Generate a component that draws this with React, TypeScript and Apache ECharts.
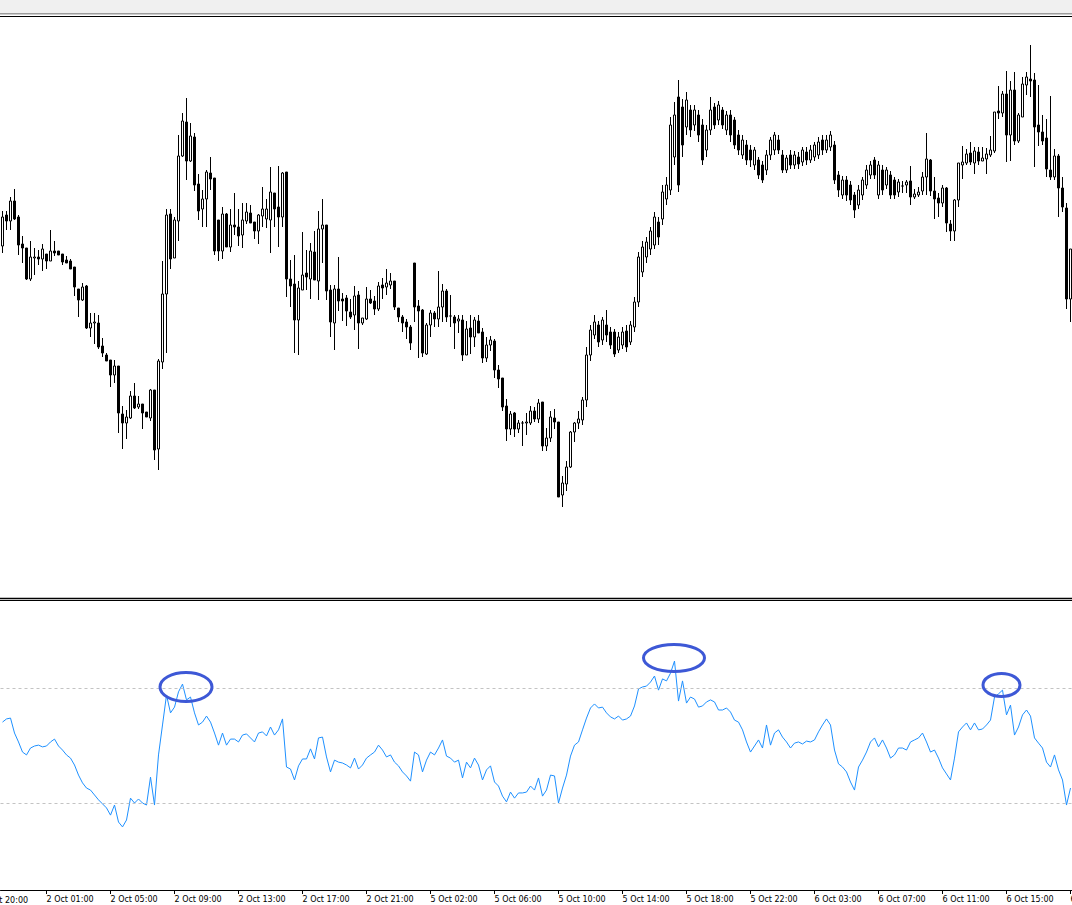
import React, { useEffect, useRef } from 'react';
import * as echarts from 'echarts';

// Candles as [open, close, low, high] in price points (15-minute bars)
const candlesSeg1: number[][] = [
  [351,380,344,386],[382,376,367,386],[376,396,367,400],[396,378,377,408],[380,352,342,382],
  [353,349,334,361],[349,318,317,349],[318,340,316,356],[339,340,322,349],[340,338,332,347],
  [338,348,326,353],[343,336,328,343],[336,346,336,367],[346,344,341,356],[346,342,342,346],
  [343,335,332,343],[337,334,334,341],[336,328,328,338],[330,310,301,330],[308,297,280,308],
  [297,310,296,314],[311,269,268,312],[269,274,260,284],[274,275,253,284],[274,250,248,282],
  [251,244,240,259],[242,236,236,244],[237,222,210,237],[222,231,214,237],[231,184,164,231],
  [183,174,148,191],[174,180,158,187],[179,201,178,206],[201,189,188,214],[190,193,188,201],
  [193,184,168,193],[185,180,180,185],[179,207,176,208],[207,147,137,207],[148,236,127,238],
  [235,303,228,336],[303,382,244,388],[383,338,328,388],[339,377,339,380],[376,441,356,462],
  [441,476,440,484],[475,436,417,499],[436,461,435,474],[460,412,406,464],[413,386,377,423],
  [388,398,370,407],[398,425,370,427],[424,418,407,440],[419,346,342,419],[377,346,336,377],
  [346,383,338,390],[383,350,350,384],[350,372,345,388],[372,370,362,404],[370,361,351,388],
  [362,377,349,394],[376,385,373,394],[384,374,374,392],[375,366,358,375],[366,382,353,383],
  [381,388,370,410],[378,388,369,398],[377,405,344,430],[404,388,370,404],[390,380,350,431],
];
const candlesSeg2: number[][] = [
  [380,424,370,425],[425,318,300,425],[318,311,290,337],[313,277,244,342],[277,309,242,316],
  [307,322,307,365],[324,320,307,347],[318,346,298,354],[345,317,317,366],[316,368,297,386],
  [368,372,334,398],[372,306,297,372],[307,275,260,312],[274,308,247,312],[308,296,286,340],
  [298,296,276,304],[299,286,271,302],[285,280,278,298],[282,301,267,311],[302,274,248,306],
  [274,279,272,279],[278,298,277,310],[298,294,293,307],[296,288,282,301],[288,311,286,315],
  [312,309,298,319],[310,314,302,328],[312,316,308,324],[316,290,287,316],[289,280,275,289],
  [280,274,265,282],[275,270,258,278],[270,254,247,272],[334,290,275,334],[291,286,239,297],
  [287,244,240,288],[243,272,242,274],[272,284,260,287],[284,278,270,286],[278,290,270,326],
  [290,306,275,313],[306,280,275,308],[281,281,270,302],[280,274,248,282],[276,278,264,282],
  [277,242,236,282],[242,268,242,276],[269,260,243,282],[260,277,250,280],[276,264,264,282],
  [265,239,234,269],[239,252,235,260],[252,257,246,261],[256,227,219,258],[227,218,209,232],
  [219,190,186,219],[191,168,156,198],[168,183,162,186],[184,168,160,185],[168,174,164,177],
  [174,174,151,176],[174,175,162,184],[174,186,172,191],[186,178,175,190],[178,194,174,198],
  [195,151,146,195],[151,159,146,169],[159,180,155,186],[179,175,168,188],[175,100,100,175],
  [102,114,90,121],[113,130,106,136],[130,165,129,166],[165,174,155,175],[174,178,168,186],
];
const candlesSeg3: number[][] = [
  [177,197,172,200],[197,242,190,250],[242,267,236,272],[262,275,258,282],[272,255,250,276],
  [257,277,252,280],[272,262,255,287],[265,252,248,270],[265,243,240,268],[247,260,244,265],
  [252,265,248,270],[266,250,245,272],[255,272,252,276],[270,295,265,300],[295,340,290,345],
  [325,350,320,356],[340,355,334,360],[348,366,342,370],[352,380,348,385],[375,360,352,380],
  [378,405,372,412],[398,412,392,420],[407,472,402,480],[440,482,432,495],[500,412,405,517],
  [490,452,440,498],[470,497,462,505],[487,467,460,492],[472,487,466,492],[482,462,455,487],
  [472,437,432,478],[447,467,440,472],[467,487,462,500],[490,472,468,494],[477,492,472,496],
  [487,472,468,490],[467,482,462,486],[482,462,455,487],[477,452,448,480],[462,447,442,467],
  [442,457,438,462],[452,437,432,457],[447,437,430,452],[432,447,427,450],[437,422,418,440],
  [432,417,414,436],[427,442,422,447],[442,457,437,460],[447,462,442,465],[457,447,443,462],
  [442,427,424,447],[427,439,424,442],[442,432,428,447],[432,442,428,446],[440,433,428,445],
  [435,447,431,450],[445,437,432,450],[437,447,434,452],[440,452,436,455],[442,455,438,460],
  [457,447,442,462],[447,457,444,462],[450,462,446,466],[452,417,413,456],[422,407,400,426],
  [402,417,398,421],[417,402,396,421],[412,397,392,416],[402,387,379,405],[392,407,388,412],
  [402,417,397,420],[412,427,408,432],[422,432,418,436],[437,422,418,440],[402,432,398,436],
  [427,407,402,432],[412,427,408,430],[422,402,398,426],[417,402,398,420],[405,415,400,418],
];
const candlesSeg4: number[][] = [
  [411,411,404,416],[412,415,404,417],[416,400,392,431],[400,403,398,408],[402,405,400,410],
  [406,420,402,425],[420,438,402,464],[437,406,401,438],[406,398,378,420],[399,394,380,404],
  [394,409,390,412],[409,374,365,410],[373,366,356,377],[366,397,356,398],[397,434,390,434],
  [432,435,418,451],[434,443,432,448],[444,435,432,455],[434,446,423,450],[445,436,432,450],
  [436,439,436,450],[438,443,423,449],[442,447,440,461],[446,485,444,485],[486,484,478,511],
  [484,503,480,506],[503,462,435,526],[462,507,436,516],[507,456,452,525],[456,482,454,484],
  [480,513,480,520],[512,520,502,525],[518,516,500,552],[517,470,430,524],[472,465,451,512],
  [465,456,452,482],[459,428,420,478],[427,420,417,501],[420,441,417,448],[441,409,380,443],
  [409,390,385,420],[389,298,288,394],[298,348,275,348],
];

// Indicator (RSI-style oscillator), one value per bar
const rsiSeg1: number[] = [
  58.3,59.4,59.7,54.5,51.4,47.9,46.9,49.3,50.0,50.3,49.7,50.0,51.4,52.4,50.0,48.6,46.9,45.8,43.4,39.9,
  37.2,35.4,34.7,33.0,31.3,29.9,28.5,26.0,29.5,23.6,21.9,24.3,31.9,30.2,31.6,30.2,29.5,39.2,29.5,46.9,
  57.3,67.7,61.5,63.5,68.8,71.5,66.0,67.0,61.5,57.3,58.3,60.4,58.3,54.5,50.3,54.5,50.3,52.4,52.4,51.4,
  53.8,54.2,52.8,51.4,54.5,54.9,53.5,56.6,53.8,55.6,
];
const rsiSeg2: number[] = [
  59.4,42.7,42.0,38.2,43.1,45.5,45.5,49.0,45.5,52.8,53.1,46.2,41.0,45.1,44.4,44.1,43.4,42.4,45.8,42.0,
  43.4,45.8,46.9,47.9,50.3,48.6,46.2,46.9,44.4,43.1,41.0,39.6,37.8,47.9,46.9,41.0,45.1,47.9,46.9,49.3,
  52.1,46.5,45.8,44.4,45.1,38.9,44.4,42.4,45.8,43.4,38.2,41.7,43.1,37.5,36.1,32.6,30.6,34.0,31.9,33.7,
  33.7,34.0,36.1,34.7,38.9,32.6,34.7,39.9,39.6,30.2,35.4,39.9,46.5,50.3,51.4,
];
const rsiSeg3: number[] = [
  55.6,59.7,63.2,64.6,63.2,63.5,61.5,60.1,59.4,60.4,59.0,59.4,60.4,63.9,69.8,70.5,70.8,72.2,74.3,69.4,
  73.3,72.6,75.3,79.5,65.6,72.6,64.9,67.0,66.3,63.5,63.9,65.3,66.0,65.3,62.5,62.5,63.2,61.8,59.0,58.3,
  55.6,51.4,47.9,50.0,52.1,49.3,57.3,50.3,54.5,55.6,53.1,51.4,49.3,51.0,51.4,50.7,51.7,51.4,52.1,54.9,
  57.3,59.4,57.3,48.6,43.8,42.7,41.0,37.5,34.7,42.7,45.1,47.9,51.4,52.8,49.7,52.1,49.3,45.8,46.9,49.3,
];
const rsiSeg4: number[] = [
  49.3,48.6,51.4,52.1,52.8,54.5,51.4,47.9,48.6,45.8,42.4,40.3,38.2,45.8,54.9,56.6,58.0,55.6,58.0,55.6,
  55.9,57.3,59.0,67.0,68.1,69.4,60.8,64.2,53.8,56.6,60.8,62.5,60.4,52.8,51.0,49.3,44.4,42.7,46.9,41.7,
  38.2,29.5,35.4,
];

const rsiLevels: number[] = [30, 70];

// Time-axis labels: one every 16 bars, starting at bar 11
const tickLabels: string[] = [
  '2 Oct 01:00', '2 Oct 05:00', '2 Oct 09:00', '2 Oct 13:00', '2 Oct 17:00', '2 Oct 21:00',
  '5 Oct 02:00', '5 Oct 06:00', '5 Oct 10:00', '5 Oct 14:00', '5 Oct 18:00', '5 Oct 22:00',
  '6 Oct 03:00', '6 Oct 07:00', '6 Oct 11:00', '6 Oct 15:00', '6 Oct 19:00',
];
const offscreenTickLabel = '1 Oct 20:00';
const FIRST_TICK = 11;
const TICK_STEP = 16;

export default function App() {
  const ref = useRef<HTMLDivElement>(null);

  useEffect(() => {
    if (!ref.current) return;
    const chart = echarts.init(ref.current, undefined, { renderer: 'svg' });
    const candles = [...candlesSeg1, ...candlesSeg2, ...candlesSeg3, ...candlesSeg4];
    const rsi = [...rsiSeg1, ...rsiSeg2, ...rsiSeg3, ...rsiSeg4];
    const cats = candles.map((_, i) => String(i));
    const isTick = (i: number) => i >= FIRST_TICK && (i - FIRST_TICK) % TICK_STEP === 0;
    const font = 'DejaVu Sans';

    chart.setOption({
      animation: false,
      backgroundColor: '#ffffff',
      grid: [
        { left: 0.5, right: -0.5, top: 17, height: 580, outerBoundsMode: 'none', containLabel: false },
        { left: 0.5, right: -0.5, top: 602, height: 288, outerBoundsMode: 'none', containLabel: false },
      ],
      xAxis: [
        { type: 'category', gridIndex: 0, data: cats, show: false, boundaryGap: true },
        {
          type: 'category', gridIndex: 1, data: cats, boundaryGap: true,
          axisLine: { show: true, lineStyle: { color: '#000', width: 1 } },
          axisTick: { show: true, alignWithLabel: true, length: 4, interval: (i: number) => isTick(i), lineStyle: { color: '#000' } },
          axisLabel: {
            show: true, interval: (i: number) => isTick(i), align: 'left', margin: 5,
            padding: [0, 0, 0, 0], hideOverlap: false,
            fontFamily: font, fontSize: 8, color: '#000',
            formatter: (_v: string, i: number) => (isTick(i) ? tickLabels[(i - FIRST_TICK) / TICK_STEP] || '' : ''),
          },
          splitLine: { show: false },
        },
      ],
      yAxis: [
        { type: 'value', gridIndex: 0, min: 0, max: 580, show: false, splitLine: { show: false } },
        { type: 'value', gridIndex: 1, min: 0, max: 100, show: false, splitLine: { show: false } },
      ],
      series: [
        {
          type: 'candlestick', xAxisIndex: 0, yAxisIndex: 0, data: candles, barWidth: 2,
          itemStyle: { color: '#ffffff', color0: '#000000', borderColor: '#000000', borderColor0: '#000000', borderWidth: 1 },
          silent: true,
        },
        {
          type: 'line', xAxisIndex: 1, yAxisIndex: 1, data: rsi, showSymbol: false, symbol: 'none',
          lineStyle: { color: '#1e90ff', width: 1 }, silent: true,
          markLine: {
            silent: true, symbol: ['none', 'none'], label: { show: false },
            lineStyle: { color: '#c3c3c3', type: [3, 3], width: 1 },
            data: rsiLevels.map((v) => ({ yAxis: v })),
          },
        },
      ],
      graphic: [
        { type: 'rect', shape: { x: 0, y: 0, width: 1072, height: 13 }, style: { fill: '#f0f0f0' }, z: 10 },
        { type: 'rect', shape: { x: 0, y: 13, width: 1072, height: 1.5 }, style: { fill: '#9c9c9c' }, z: 10 },
        { type: 'line', shape: { x1: 0, y1: 16.5, x2: 1072, y2: 16.5 }, style: { stroke: '#000', lineWidth: 1 }, z: 10 },
        { type: 'line', shape: { x1: 0, y1: 598.5, x2: 1072, y2: 598.5 }, style: { stroke: '#000', lineWidth: 1.3 }, z: 10 },
        { type: 'line', shape: { x1: 0, y1: 600.5, x2: 1072, y2: 600.5 }, style: { stroke: '#000', lineWidth: 1 }, z: 10 },
        { type: 'ellipse', shape: { cx: 186, cy: 687, rx: 26, ry: 14.5 }, style: { fill: 'none', stroke: '#3d58d6', lineWidth: 3 }, z: 10 },
        { type: 'ellipse', shape: { cx: 674, cy: 658, rx: 30.5, ry: 13.5 }, style: { fill: 'none', stroke: '#3d58d6', lineWidth: 3 }, z: 10 },
        { type: 'ellipse', shape: { cx: 1001.5, cy: 685, rx: 18.5, ry: 11.5 }, style: { fill: 'none', stroke: '#3d58d6', lineWidth: 3 }, z: 10 },
        { type: 'text', x: -19, y: 896, style: { text: offscreenTickLabel, font: `8px "${font}"`, fill: '#000', textVerticalAlign: 'top' }, z: 10 },
      ],
    });
    return () => chart.dispose();
  }, []);

  return (
    <div
      ref={ref}
      style={{ position: 'fixed', left: 0, top: 0, width: 1072, height: 905, overflow: 'hidden', background: '#fff' }}
    />
  );
}
